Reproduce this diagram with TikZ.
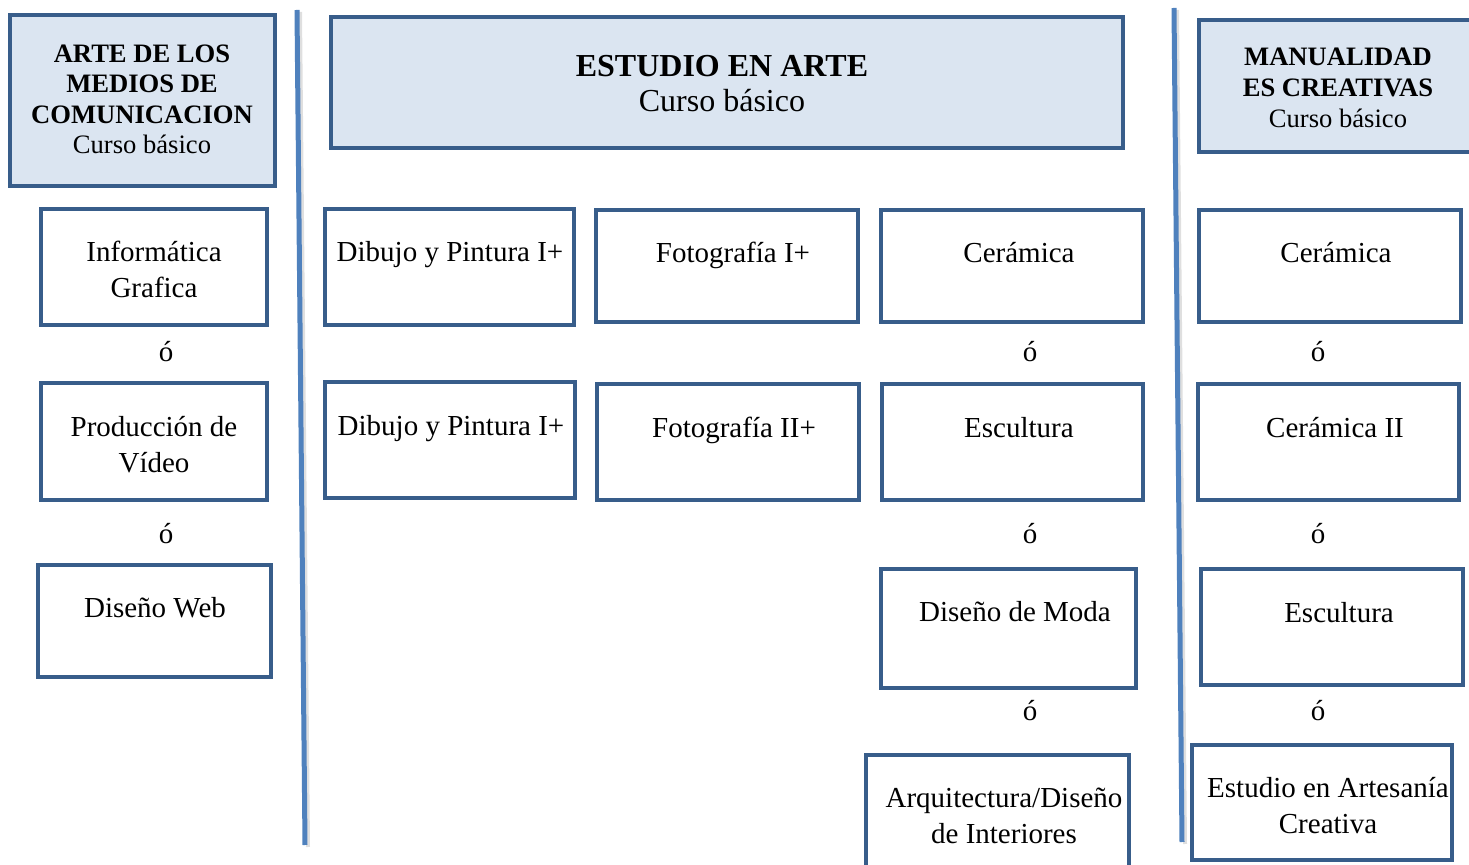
\documentclass[tikz,border=0pt]{standalone}
\usepackage{fontspec}
\setmainfont{Liberation Serif}
\usetikzlibrary{fit}
\definecolor{bordeazul}{RGB}{56,93,138}
\definecolor{fondoazul}{RGB}{219,229,241}
\definecolor{lineaazul}{RGB}{79,129,189}

\begin{document}
\begin{tikzpicture}[x=0.5pt,y=-0.5pt,
caja/.style={draw=bordeazul,line width=2.25pt,inner sep=0pt},
cabeza/.style={caja,fill=fondoazul},
texto/.style={font=\fontsize{14.5}{18}\selectfont,align=center,anchor=base,inner sep=0pt},
separador/.style={draw=lineaazul,line width=2.5pt}]

\useasboundingbox (0,0) rectangle (1469,865);

% separators
\draw[gray!25,line width=2pt] (300,12) -- (308,847);
\draw[gray!25,line width=2pt] (1177,10) -- (1185,844);
\draw[separador] (297,10) -- (305,845);
\draw[separador] (1174,8) -- (1182,842);

% headers
\node[cabeza,fit={(10,15) (275,186)}](h1){};
\node[cabeza,fit={(331,17) (1123,148)}](h2){};
\node[cabeza,fit={(1199,20) (1500,152)}](h3){};

% (anchor base = last line)
\node[texto,font=\fontsize{13.3}{15.3}\selectfont] (h1t) at (142,154)
  {\textbf{ARTE DE LOS}\\\textbf{MEDIOS DE}\\\textbf{COMUNICACION}\\Curso básico};
\node[texto,font=\fontsize{16}{17.5}\selectfont] (h2t) at (722,112)
  {\textbf{ESTUDIO EN ARTE}\\Curso básico};
\node[texto,font=\fontsize{13.3}{15.5}\selectfont] (h3t) at (1338,128)
  {\textbf{MANUALIDAD}\\\textbf{ES CREATIVAS}\\Curso básico};

% column 1
\node[caja,fit={(41,209) (267,325)}](inf){};
\node[caja,fit={(41,383) (267,500)}](vid){};
\node[caja,fit={(38,565) (271,677)}](web){};
\node[texto] (inft) at (154,298) {Informática\\Grafica};
\node[texto] (vidt) at (154,473) {Producción de\\Vídeo};
\node[texto] (webt) at (155,618) {Diseño Web};
\node[texto] (o1) at (166,362) {ó};
\node[texto] (o2) at (166,544) {ó};

% column 2
\node[caja,fit={(325,209) (574,325)}](dib1){};
\node[caja,fit={(325,382) (575,498)}](dib2){};
\node[texto] (dib1t) at (450,262) {Dibujo y Pintura I+};
\node[texto] (dib2t) at (451,436) {Dibujo y Pintura I+};

% column 3
\node[caja,fit={(596,210) (858,322)}](foto1){};
\node[caja,fit={(597,384) (859,500)}](foto2){};
\node[texto] (foto1t) at (733,263) {Fotografía I+};
\node[texto] (foto2t) at (734,438) {Fotografía II+};

% column 4
\node[caja,fit={(881,210) (1143,322)}](cer1){};
\node[caja,fit={(882,384) (1143,500)}](esc1){};
\node[caja,fit={(881,569) (1136,688)}](moda){};
\node[caja,fit={(866,755) (1129,900)}](arq){};
\node[texto] (cer1t) at (1019,263) {Cerámica};
\node[texto] (esc1t) at (1019,438) {Escultura};
\node[texto] (modat) at (1015,622) {Diseño de Moda};
\node[texto] (arqt) at (1004,844) {Arquitectura/Diseño\\de Interiores};
\node[texto] (o3) at (1030,362) {ó};
\node[texto] (o4) at (1030,544) {ó};
\node[texto] (o5) at (1030,721) {ó};

% column 5
\node[caja,fit={(1199,210) (1461,322)}](cer2){};
\node[caja,fit={(1198,384) (1459,500)}](cer3){};
\node[caja,fit={(1201,569) (1463,685)}](esc2){};
\node[caja,fit={(1192,745) (1452,860)}](art){};
\node[texto] (cer2t) at (1336,263) {Cerámica};
\node[texto] (cer3t) at (1335,438) {Cerámica II};
\node[texto] (esc2t) at (1339,623) {Escultura};
\node[texto] (artt) at (1328,834) {Estudio en Artesanía\\Creativa};
\node[texto] (o6) at (1318,362) {ó};
\node[texto] (o7) at (1318,544) {ó};
\node[texto] (o8) at (1318,721) {ó};
\end{tikzpicture}
\end{document}
